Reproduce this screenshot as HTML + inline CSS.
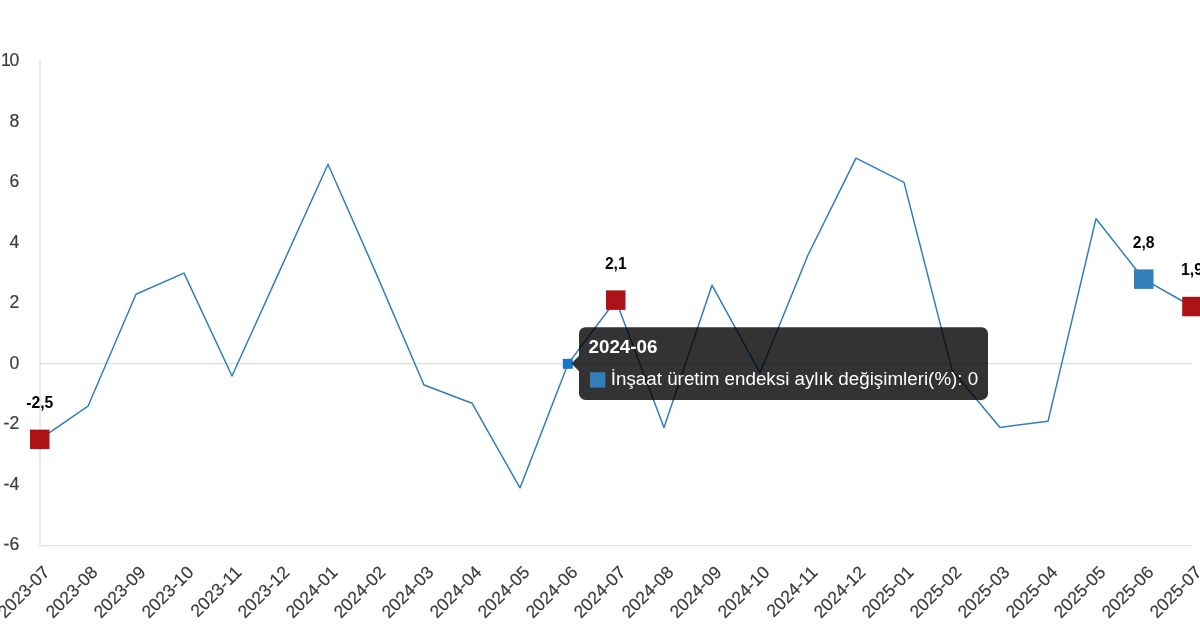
<!DOCTYPE html>
<html lang="tr"><head><meta charset="utf-8"><title>İnşaat üretim endeksi</title>
<style>
html,body{margin:0;padding:0;background:#fff;}
body{width:1200px;height:628px;overflow:hidden;position:relative;font-family:"Liberation Sans",Arial,sans-serif;}
svg{position:absolute;left:0;top:0;display:block;}
text{font-family:"Liberation Sans",Arial,sans-serif;}
.tk{font-size:17.6px;fill:#3d3d3d;stroke:#3d3d3d;stroke-width:0.2px;}
.dl{font-size:15.7px;font-weight:bold;fill:#000;text-anchor:middle;}
</style></head><body>
<svg width="1200" height="628" viewBox="0 0 1200 628">

<line x1="40" y1="60.2" x2="40" y2="546.2" stroke="#d9d9d9" stroke-width="1.2"/>
<line x1="39.2" y1="545.65" x2="1192" y2="545.65" stroke="#e2e2e2" stroke-width="1.2"/>
<line x1="40" y1="363.7" x2="1192" y2="363.7" stroke="#dcdede" stroke-width="1.25"/>
<text class="tk" x="19.2" y="66.00" text-anchor="end" letter-spacing="-1.5" dx="-1.5">10</text>
<text class="tk" x="19.2" y="126.50" text-anchor="end">8</text>
<text class="tk" x="19.2" y="187.00" text-anchor="end">6</text>
<text class="tk" x="19.2" y="247.50" text-anchor="end">4</text>
<text class="tk" x="19.2" y="308.00" text-anchor="end">2</text>
<text class="tk" x="19.2" y="368.50" text-anchor="end">0</text>
<text class="tk" x="19.2" y="429.00" text-anchor="end">-2</text>
<text class="tk" x="19.2" y="489.50" text-anchor="end">-4</text>
<text class="tk" x="19.2" y="550.00" text-anchor="end">-6</text>
<text class="tk" text-anchor="end" transform="translate(46.2,569.0) rotate(-45)" x="0" y="6.2">2023-07</text>
<text class="tk" text-anchor="end" transform="translate(94.2,569.0) rotate(-45)" x="0" y="6.2">2023-08</text>
<text class="tk" text-anchor="end" transform="translate(142.2,569.0) rotate(-45)" x="0" y="6.2">2023-09</text>
<text class="tk" text-anchor="end" transform="translate(190.2,569.0) rotate(-45)" x="0" y="6.2">2023-10</text>
<text class="tk" text-anchor="end" transform="translate(238.2,569.0) rotate(-45)" x="0" y="6.2">2023-11</text>
<text class="tk" text-anchor="end" transform="translate(286.2,569.0) rotate(-45)" x="0" y="6.2">2023-12</text>
<text class="tk" text-anchor="end" transform="translate(334.2,569.0) rotate(-45)" x="0" y="6.2">2024-01</text>
<text class="tk" text-anchor="end" transform="translate(382.2,569.0) rotate(-45)" x="0" y="6.2">2024-02</text>
<text class="tk" text-anchor="end" transform="translate(430.2,569.0) rotate(-45)" x="0" y="6.2">2024-03</text>
<text class="tk" text-anchor="end" transform="translate(478.2,569.0) rotate(-45)" x="0" y="6.2">2024-04</text>
<text class="tk" text-anchor="end" transform="translate(526.2,569.0) rotate(-45)" x="0" y="6.2">2024-05</text>
<text class="tk" text-anchor="end" transform="translate(574.2,569.0) rotate(-45)" x="0" y="6.2">2024-06</text>
<text class="tk" text-anchor="end" transform="translate(622.2,569.0) rotate(-45)" x="0" y="6.2">2024-07</text>
<text class="tk" text-anchor="end" transform="translate(670.2,569.0) rotate(-45)" x="0" y="6.2">2024-08</text>
<text class="tk" text-anchor="end" transform="translate(718.2,569.0) rotate(-45)" x="0" y="6.2">2024-09</text>
<text class="tk" text-anchor="end" transform="translate(766.2,569.0) rotate(-45)" x="0" y="6.2">2024-10</text>
<text class="tk" text-anchor="end" transform="translate(814.2,569.0) rotate(-45)" x="0" y="6.2">2024-11</text>
<text class="tk" text-anchor="end" transform="translate(862.2,569.0) rotate(-45)" x="0" y="6.2">2024-12</text>
<text class="tk" text-anchor="end" transform="translate(910.2,569.0) rotate(-45)" x="0" y="6.2">2025-01</text>
<text class="tk" text-anchor="end" transform="translate(958.2,569.0) rotate(-45)" x="0" y="6.2">2025-02</text>
<text class="tk" text-anchor="end" transform="translate(1006.2,569.0) rotate(-45)" x="0" y="6.2">2025-03</text>
<text class="tk" text-anchor="end" transform="translate(1054.2,569.0) rotate(-45)" x="0" y="6.2">2025-04</text>
<text class="tk" text-anchor="end" transform="translate(1102.2,569.0) rotate(-45)" x="0" y="6.2">2025-05</text>
<text class="tk" text-anchor="end" transform="translate(1150.2,569.0) rotate(-45)" x="0" y="6.2">2025-06</text>
<text class="tk" text-anchor="end" transform="translate(1198.2,569.0) rotate(-45)" x="0" y="6.2">2025-07</text>
<polyline points="39.8,439.4 88.0,406.2 136.0,294.3 184.0,273.1 232.0,376.0 280.0,270.1 328.0,164.2 376.0,273.1 424.0,385.0 472.0,403.2 520.0,487.9 568.0,363.9 615.8,300.2 664.0,427.4 712.0,285.2 760.0,372.9 808.0,255.0 856.0,158.2 904.0,182.4 952.0,369.9 1000.0,427.4 1048.0,421.3 1096.0,218.7 1143.7,279.2 1192.0,306.5" fill="none" stroke="#317eba" stroke-width="1.5" stroke-linejoin="round"/>
<rect x="30.0" y="429.6" width="19.5" height="19.5" fill="#ad1219"/>
<rect x="606.0" y="290.4" width="19.5" height="19.5" fill="#ad1219"/>
<rect x="1134.0" y="269.4" width="19.5" height="19.5" fill="#317eba"/>
<rect x="1182.2" y="296.8" width="19.5" height="19.5" fill="#ad1219"/>
<rect x="562.8" y="358.8" width="10" height="10" fill="#1874c8"/>
<text class="dl" x="39.8" y="408.2">-2,5</text>
<text class="dl" x="615.8" y="269.0">2,1</text>
<text class="dl" x="1143.7" y="248.0">2,8</text>
<text class="dl" x="1192.0" y="275.3">1,9</text>
<path d="M585.5 327.2 H981.5 A6.5 6.5 0 0 1 988 333.7 V393.5 A6.5 6.5 0 0 1 981.5 400 H585.5 A6.5 6.5 0 0 1 579 393.5 V371.2 L571.5 363.5 L579 355.8 V333.7 A6.5 6.5 0 0 1 585.5 327.2 Z" fill="rgba(0,0,0,0.8)"/>
<rect x="590" y="372.2" width="15.4" height="15.4" fill="#317eba"/>
<text x="588.5" y="352.8" font-size="18.8" font-weight="bold" fill="#fff">2024-06</text>
<text x="610.8" y="385.4" font-size="18.8" fill="#fff">İnşaat üretim endeksi aylık değişimleri(%): 0</text>
</svg></body></html>
